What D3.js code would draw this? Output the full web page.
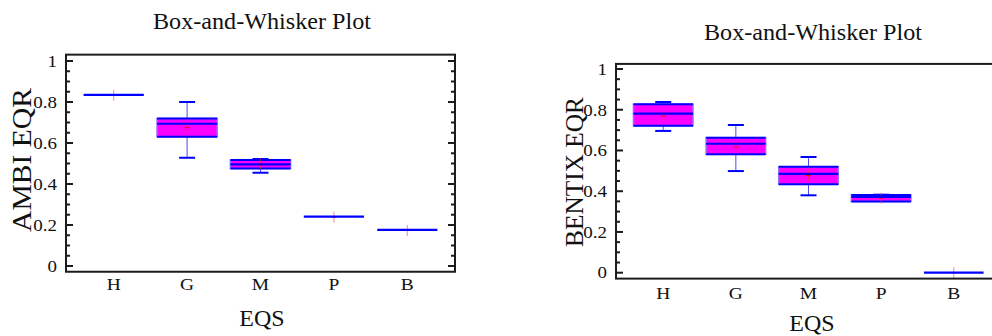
<!DOCTYPE html>
<html>
<head>
<meta charset="utf-8">
<script src="https://cdn.jsdelivr.net/npm/d3@7/dist/d3.min.js"></script>
<style>
  html, body { margin: 0; padding: 0; background: #fff; }
  svg { display: block; }
  text { font-family: "Liberation Serif", "Times New Roman", serif; fill: #111; }
</style>
</head>
<body>
<svg id="chart" width="992" height="336"></svg>
<script>
// ---- data ----
const categories = ["H", "G", "M", "P", "B"];
const yTicks = [0, 0.2, 0.4, 0.6, 0.8, 1];
const yTickLabels = ["0", "0.2", "0.4", "0.6", "0.8", "1"];

const ambiMin    = [0.835, 0.528, 0.455, 0.241, 0.176];
const ambiQ1     = [0.835, 0.631, 0.476, 0.241, 0.176];
const ambiMedian = [0.835, 0.694, 0.496, 0.241, 0.176];
const ambiQ3     = [0.835, 0.719, 0.517, 0.241, 0.176];
const ambiMax    = [0.835, 0.800, 0.522, 0.241, 0.176];
const ambiMean   = [0.833, 0.675, 0.500, 0.238, 0.173];

const bentixMin    = [0.696, 0.499, 0.380, 0.352, 0.000];
const bentixQ1     = [0.722, 0.581, 0.434, 0.350, 0.000];
const bentixMedian = [0.781, 0.633, 0.485, 0.372, 0.000];
const bentixQ3     = [0.827, 0.663, 0.520, 0.381, 0.000];
const bentixMax    = [0.838, 0.725, 0.568, 0.383, 0.000];
const bentixMean   = [0.769, 0.617, 0.478, 0.366, 0.000];

const svg = d3.select("#chart");

function drawPanel(cfg) {
  const g = svg.append("g");
  const x = d3.scalePoint().domain(categories).range([cfg.left, cfg.right]).padding(0.65);
  const y = d3.scaleLinear().domain([0, 1]).range([cfg.y0, cfg.y1]);
  const top = y(cfg.domTop), bottom = y(cfg.domBottom);
  const step = x.step();
  const bw = step * 0.82;
  const cw = 16;

  const rows = categories.map((c, i) => ({
    c, min: cfg.min[i], q1: cfg.q1[i], med: cfg.median[i], q3: cfg.q3[i], max: cfg.max[i], mean: cfg.mean[i]
  }));

  // whiskers
  rows.forEach(d => {
    const cx = x(d.c);
    if (d.max > d.q3) {
      g.append("line").attr("x1", cx).attr("x2", cx).attr("y1", y(d.q3)).attr("y2", y(d.max))
        .attr("stroke", "#4a4aff").attr("stroke-width", 1);
      g.append("line").attr("x1", cx - cw / 2).attr("x2", cx + cw / 2).attr("y1", y(d.max)).attr("y2", y(d.max))
        .attr("stroke", "#0000ff").attr("stroke-width", 2);
    }
    if (d.min < d.q1) {
      g.append("line").attr("x1", cx).attr("x2", cx).attr("y1", y(d.q1)).attr("y2", y(d.min))
        .attr("stroke", "#4a4aff").attr("stroke-width", 1);
      g.append("line").attr("x1", cx - cw / 2).attr("x2", cx + cw / 2).attr("y1", y(d.min)).attr("y2", y(d.min))
        .attr("stroke", "#0000ff").attr("stroke-width", 2);
    }
  });

  // boxes
  rows.forEach(d => {
    const cx = x(d.c);
    const h = y(d.q1) - y(d.q3);
    if (h > 0.5) {
      g.append("rect").attr("x", cx - bw / 2).attr("y", y(d.q3)).attr("width", bw).attr("height", h)
        .attr("fill", "#ff00ff").attr("stroke", "#9a6cff").attr("stroke-width", 1.5);
      [d.q1, d.q3].forEach(v => {
        g.append("line").attr("x1", cx - bw / 2).attr("x2", cx + bw / 2).attr("y1", y(v)).attr("y2", y(v))
          .attr("stroke", "#0000ff").attr("stroke-width", 2);
      });
    }
  });

  // means (red plus)
  rows.forEach(d => {
    const cx = x(d.c), cy = y(d.mean);
    g.append("line").attr("x1", cx).attr("x2", cx).attr("y1", cy - 5.5).attr("y2", cy + 5.5)
      .attr("stroke", "#ff3030").attr("stroke-width", 1).attr("stroke-opacity", 0.6);
    g.append("line").attr("x1", cx - 2.5).attr("x2", cx + 2.5).attr("y1", cy).attr("y2", cy)
      .attr("stroke", "#ff0000").attr("stroke-width", 1);
  });

  // medians
  rows.forEach(d => {
    const cx = x(d.c);
    g.append("line").attr("x1", cx - bw / 2).attr("x2", cx + bw / 2).attr("y1", y(d.med)).attr("y2", y(d.med))
      .attr("stroke", "#0000ff").attr("stroke-width", 2.2);
  });

  // frame
  const frame = "#1c1c1c";
  g.append("rect").attr("x", cfg.left).attr("y", top).attr("width", cfg.right - cfg.left).attr("height", bottom - top)
    .attr("fill", "none").attr("stroke", frame).attr("stroke-width", 2);

  // y ticks (inside, left and right)
  const minor = d3.range(0, 1.0001, 0.05);
  minor.forEach(v => {
    const isMajor = Math.abs(v * 5 - Math.round(v * 5)) < 1e-6;
    const len = isMajor ? 7 : 4;
    g.append("line").attr("x1", cfg.left).attr("x2", cfg.left + len).attr("y1", y(v)).attr("y2", y(v))
      .attr("stroke", frame).attr("stroke-width", 2);
    g.append("line").attr("x1", cfg.right).attr("x2", cfg.right - len).attr("y1", y(v)).attr("y2", y(v))
      .attr("stroke", frame).attr("stroke-width", 2);
  });

  // y tick labels
  yTicks.forEach((v, i) => {
    g.append("text").attr("transform", `translate(${cfg.left - 9},${y(v)}) scale(1.15,1)`).attr("dy", "0.35em")
      .attr("text-anchor", "end").attr("font-size", 16.5).text(yTickLabels[i]);
  });

  // x tick labels
  categories.forEach(c => {
    g.append("text").attr("transform", `translate(${x(c)},${cfg.xLabelY}) scale(1.18,1)`).attr("text-anchor", "middle")
      .attr("font-size", 16.5).text(c);
  });

  // axis titles
  g.append("text").attr("x", cfg.xTitleX).attr("y", cfg.xTitleY).attr("text-anchor", "middle")
    .attr("font-size", 24).text("EQS");
  g.append("text").attr("transform", `translate(${cfg.yTitleX},${cfg.yTitleY}) rotate(-90)`)
    .attr("text-anchor", "middle").attr("font-size", cfg.yTitleSize)
    .attr("textLength", cfg.yTitleLen).attr("lengthAdjust", "spacingAndGlyphs").text(cfg.yTitle);
  g.append("text").attr("x", cfg.titleX).attr("y", cfg.titleY).attr("text-anchor", "middle")
    .attr("font-size", 23).attr("textLength", 218).attr("lengthAdjust", "spacingAndGlyphs")
    .text("Box-and-Whisker Plot");
}

drawPanel({
  left: 66, right: 455, y0: 266, y1: 61, domTop: 1.031, domBottom: -0.028,
  min: ambiMin, q1: ambiQ1, median: ambiMedian, q3: ambiQ3, max: ambiMax, mean: ambiMean,
  xLabelY: 290, xTitleX: 262, xTitleY: 326, yTitleX: 31, yTitleY: 160, yTitleSize: 27, yTitleLen: 144,
  yTitle: "AMBI EQR", titleX: 262, titleY: 29
});

drawPanel({
  left: 616, right: 1001, y0: 272.7, y1: 69, domTop: 1.025, domBottom: -0.029,
  min: bentixMin, q1: bentixQ1, median: bentixMedian, q3: bentixQ3, max: bentixMax, mean: bentixMean,
  xLabelY: 299, xTitleX: 812, xTitleY: 331, yTitleX: 583, yTitleY: 172, yTitleSize: 25, yTitleLen: 150,
  yTitle: "BENTIX EQR", titleX: 813, titleY: 40
});
</script>
</body>
</html>
